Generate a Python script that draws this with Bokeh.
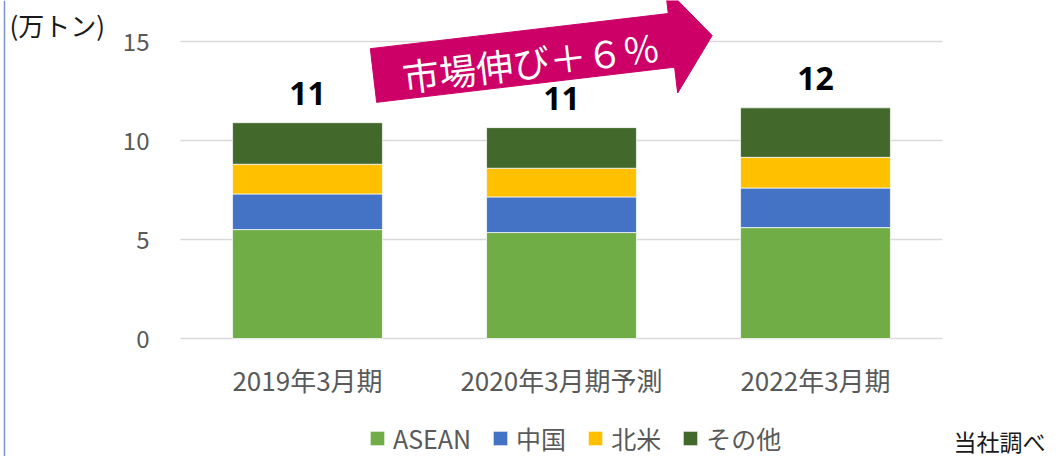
import math
from bokeh.plotting import figure
from bokeh.models import (Range1d, FixedTicker, Label, Legend, LegendItem,
                          Span, ColumnDataSource, LinearAxis)
from bokeh.core.properties import value
from bokeh.embed import file_html
from bokeh.resources import INLINE

# ---- data ----
categories = ["2019年3月期", "2020年3月期予測", "2022年3月期"]
asean = [5.5, 5.35, 5.6]
china = [1.8, 1.8, 2.0]
namerica = [1.5, 1.45, 1.55]
other = [2.1, 2.05, 2.5]
series_names = ["ASEAN", "中国", "北米", "その他"]
y_ticks = [0, 5, 10, 15]
arrow_text = "市場伸び＋６％"
unit_text = "(万トン)"
source_text = "当社調べ"

colors = ["#70AD47", "#4472C4", "#FFC000", "#43682B"]
JP = "Noto Sans CJK JP"

x_pos = list(range(1, len(categories) + 1))
totals = [a + b + c + d for a, b, c, d in zip(asean, china, namerica, other)]
total_labels = [str(int(round(t))) for t in totals]

# ---- layout constants (canvas pixels) ----
W, H = 1060, 456
AREA_L, AREA_R = 180, 942          # plot-area left/right in pixels
Y0_PX, PX_PER_UNIT = 338, 19.8     # pixel row of value 0, pixels per unit
X_PER = (AREA_R - AREA_L) / len(categories)


def px2x(px):
    return 0.5 + (px - AREA_L) / X_PER


def py2y(py):
    return (Y0_PX - py) / PX_PER_UNIT


p = figure(x_range=Range1d(px2x(0), px2x(W)),
           y_range=Range1d(py2y(H), py2y(0)),
           width=W, height=H, output_backend="svg", toolbar_location=None,
           x_axis_location=None, y_axis_location=None,
           min_border=0, outline_line_color=None)
p.title.visible = False
p.xgrid.visible = False
p.ygrid.visible = False

# horizontal gridlines over the plot area
x_lo, x_hi = min(x_pos) - 0.5, max(x_pos) + 0.5
p.segment(x0=[x_lo] * len(y_ticks), x1=[x_hi] * len(y_ticks),
          y0=y_ticks, y1=y_ticks, line_color="#D9D9D9", line_width=1.5)

src = ColumnDataSource(dict(x=x_pos, asean=asean, china=china,
                            na=namerica, other=other))
rs = p.vbar_stack(["asean", "china", "na", "other"], x="x", width=0.59,
                  color=colors, line_color="white", line_width=1,
                  line_alpha=0.7, source=src)

# totals
p.text(x=x_pos, y=totals, text=total_labels, text_align="center",
       text_baseline="alphabetic", y_offset=-29,
       text_font=value("Noto Sans"), text_font_style="bold",
       text_font_size="32px", text_color="#000000")

# axes
yaxis = LinearAxis(fixed_location=x_lo, ticker=FixedTicker(ticks=y_ticks),
                   axis_line_color=None, major_tick_line_color=None,
                   minor_tick_line_color=None, major_label_standoff=25,
                   major_label_text_font=JP,
                   major_label_text_font_size="24px",
                   major_label_text_color="#595959")
p.add_layout(yaxis, "left")

xaxis = LinearAxis(fixed_location=0, ticker=FixedTicker(ticks=x_pos),
                   major_label_overrides=dict(zip(x_pos, categories)),
                   axis_line_color=None, major_tick_line_color=None,
                   minor_tick_line_color=None, major_label_standoff=16,
                   major_label_text_font=JP,
                   major_label_text_font_size="26px",
                   major_label_text_color="#595959")
p.add_layout(xaxis, "below")

# legend
legend = Legend(items=[LegendItem(label=n, renderers=[r])
                       for n, r in zip(series_names, rs)],
                orientation="horizontal", location=(368, 0),
                glyph_width=18, glyph_height=18, label_standoff=7,
                spacing=20, padding=0, margin=0,
                background_fill_alpha=0, border_line_color=None,
                label_text_font=JP, label_text_font_size="25px",
                label_text_color="#595959")
p.add_layout(legend)

# arrow annotation
theta = math.atan2(40, 339)
ux, uy = math.cos(theta), -math.sin(theta)
nx, ny = math.sin(theta), math.cos(theta)
tx, ty = 373, 75
shaft_len, tip_len, half_w, head_w = 300, 341, 27, 53


def pt(a, b):
    return (tx + a * ux + b * nx, ty + a * uy + b * ny)


poly = [pt(0, -half_w), pt(shaft_len, -half_w), pt(shaft_len, -head_w),
        pt(tip_len, 0), pt(shaft_len, head_w), pt(shaft_len, half_w),
        pt(0, half_w)]
p.patch([px2x(a) for a, b in poly], [py2y(b) for a, b in poly],
        color="#CC0066", line_color="#CC0066")
cx, cy = pt(158, 4)
p.add_layout(Label(x=px2x(cx), y=py2y(cy), text=arrow_text, angle=theta,
                   text_align="center", text_baseline="middle",
                   text_color="white", text_font=JP, text_font_size="37px"))

p.add_layout(Label(x=px2x(9), y=py2y(24), text=unit_text,
                   text_align="left", text_baseline="middle",
                   text_color="#1a1a1a", text_font=JP,
                   text_font_size="26px"))
p.add_layout(Label(x=px2x(953), y=py2y(440), text=source_text,
                   text_align="left", text_baseline="middle",
                   text_color="#1a1a1a", text_font=JP,
                   text_font_size="23px"))

p.add_layout(Span(location=px2x(4), dimension="height",
                  line_color="#7F93C8", line_width=1.5))

open("out.html", "w").write(file_html(p, INLINE))
